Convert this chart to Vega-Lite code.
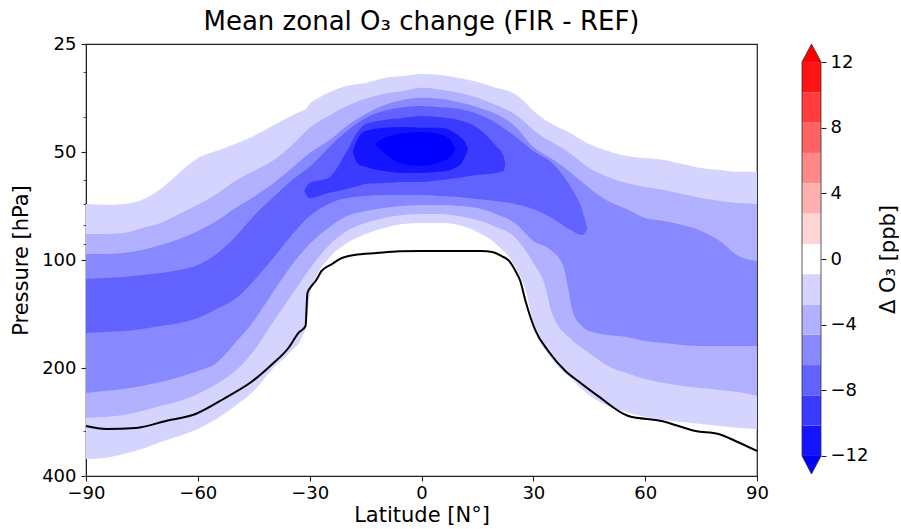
{
  "$schema": "https://vega.github.io/schema/vega-lite/v6.json",
  "padding": {"left": 10, "top": 8, "right": 0, "bottom": 0},
  "background": "white",
  "bounds": "flush",
  "spacing": 45,
  "config": {
    "font": "DejaVu Sans",
    "view": {"stroke": "#222", "strokeWidth": 1.2},
    "axis": {"labelFont": "DejaVu Sans", "titleFont": "DejaVu Sans", "labelFontSize": 18, "titleFontSize": 21, "titleFontWeight": "normal", "labelColor": "#000", "titleColor": "#000", "tickColor": "#222", "domainColor": "#222", "tickSize": 5, "tickWidth": 1.1, "grid": false, "labelFlush": false, "labelOverlap": false},
    "title": {"fontSize": 26, "fontWeight": "normal", "font": "DejaVu Sans", "color": "#000"}
  },
  "datasets": {
    "cont": [
      {"lev":1,"lat":-90,"top":69.8,"bot":358.6},{"lev":1,"lat":-85,"top":70.2,"bot":356.3},{"lev":1,"lat":-80,"top":69.8,"bot":347.3},{"lev":1,"lat":-75,"top":68.0,"bot":336.3},{"lev":1,"lat":-70,"top":63.4,"bot":321.5},{"lev":1,"lat":-65,"top":57.2,"bot":309.4},{"lev":1,"lat":-60,"top":52.0,"bot":295.7},{"lev":1,"lat":-55,"top":49.7,"bot":277.4},{"lev":1,"lat":-50,"top":47.5,"bot":255.2},{"lev":1,"lat":-45,"top":45.1,"bot":231.7},{"lev":1,"lat":-40,"top":42.3,"bot":201.2},{"lev":1,"lat":-35,"top":39.7,"bot":179.3},{"lev":1,"lat":-32,"top":38.4,"bot":163.8},{"lev":1,"lat":-31,"top":38.0,"bot":152.7},{"lev":1,"lat":-30,"top":36.7,"bot":126.0},{"lev":1,"lat":-28,"top":35.5,"bot":110.1},{"lev":1,"lat":-25,"top":34.2,"bot":99.3},{"lev":1,"lat":-20,"top":32.7,"bot":89.7},{"lev":1,"lat":-15,"top":32.1,"bot":84.6},{"lev":1,"lat":-10,"top":31.1,"bot":81.4},{"lev":1,"lat":-5,"top":30.7,"bot":79.4},{"lev":1,"lat":0,"top":30.3,"bot":78.9},{"lev":1,"lat":5,"top":30.5,"bot":78.9},{"lev":1,"lat":10,"top":31.1,"bot":79.9},{"lev":1,"lat":15,"top":31.9,"bot":83.5},{"lev":1,"lat":20,"top":33.1,"bot":90.2},{"lev":1,"lat":25,"top":34.4,"bot":103.9},{"lev":1,"lat":28,"top":36.5,"bot":122.0},{"lev":1,"lat":30,"top":38.4,"bot":149.8},{"lev":1,"lat":35,"top":41.8,"bot":188.7},{"lev":1,"lat":40,"top":44.3,"bot":213.2},{"lev":1,"lat":45,"top":47.5,"bot":237.7},{"lev":1,"lat":50,"top":49.7,"bot":255.2},{"lev":1,"lat":55,"top":51.3,"bot":265.2},{"lev":1,"lat":60,"top":52.0,"bot":273.9},{"lev":1,"lat":65,"top":52.6,"bot":279.1},{"lev":1,"lat":70,"top":54.0,"bot":282.8},{"lev":1,"lat":75,"top":55.4,"bot":286.4},{"lev":1,"lat":80,"top":56.1,"bot":290.1},{"lev":1,"lat":85,"top":56.8,"bot":293.8},{"lev":1,"lat":90,"top":56.8,"bot":295.7},
      {"lev":2,"lat":-90,"top":84.6,"bot":275.6},{"lev":2,"lat":-85,"top":84.6,"bot":273.9},{"lev":2,"lat":-80,"top":84.1,"bot":270.3},{"lev":2,"lat":-75,"top":81.4,"bot":263.5},{"lev":2,"lat":-70,"top":78.9,"bot":255.2},{"lev":2,"lat":-65,"top":74.4,"bot":247.1},{"lev":2,"lat":-60,"top":70.2,"bot":236.2},{"lev":2,"lat":-55,"top":65.5,"bot":221.6},{"lev":2,"lat":-50,"top":60.2,"bot":203.8},{"lev":2,"lat":-45,"top":56.5,"bot":179.3},{"lev":2,"lat":-40,"top":53.0,"bot":149.8},{"lev":2,"lat":-35,"top":48.1,"bot":126.0},{"lev":2,"lat":-30,"top":42.8,"bot":105.9},{"lev":2,"lat":-25,"top":39.7,"bot":91.4},{"lev":2,"lat":-20,"top":37.2,"bot":83.0},{"lev":2,"lat":-15,"top":35.5,"bot":78.9},{"lev":2,"lat":-10,"top":34.4,"bot":76.4},{"lev":2,"lat":-5,"top":33.8,"bot":74.9},{"lev":2,"lat":0,"top":33.1,"bot":74.4},{"lev":2,"lat":5,"top":33.5,"bot":74.4},{"lev":2,"lat":10,"top":34.2,"bot":75.4},{"lev":2,"lat":15,"top":35.3,"bot":77.4},{"lev":2,"lat":20,"top":37.0,"bot":80.9},{"lev":2,"lat":25,"top":39.2,"bot":86.3},{"lev":2,"lat":28,"top":41.5,"bot":94.4},{"lev":2,"lat":30,"top":43.4,"bot":101.9},{"lev":2,"lat":33,"top":45.7,"bot":116.6},{"lev":2,"lat":35,"top":46.9,"bot":140.5},{"lev":2,"lat":40,"top":50.6,"bot":165.9},{"lev":2,"lat":45,"top":55.4,"bot":181.6},{"lev":2,"lat":50,"top":58.7,"bot":197.4},{"lev":2,"lat":55,"top":61.0,"bot":206.4},{"lev":2,"lat":60,"top":62.6,"bot":214.6},{"lev":2,"lat":65,"top":63.8,"bot":220.2},{"lev":2,"lat":70,"top":65.5,"bot":224.4},{"lev":2,"lat":75,"top":67.2,"bot":227.3},{"lev":2,"lat":80,"top":68.5,"bot":230.2},{"lev":2,"lat":85,"top":69.4,"bot":233.2},{"lev":2,"lat":90,"top":69.8,"bot":239.3},
      {"lev":3,"lat":-90,"top":96.2,"bot":234.7},{"lev":3,"lat":-85,"top":96.2,"bot":231.7},{"lev":3,"lat":-80,"top":95.6,"bot":228.7},{"lev":3,"lat":-75,"top":93.8,"bot":224.4},{"lev":3,"lat":-70,"top":90.8,"bot":218.8},{"lev":3,"lat":-65,"top":87.4,"bot":211.9},{"lev":3,"lat":-60,"top":83.0,"bot":203.8},{"lev":3,"lat":-55,"top":77.9,"bot":193.6},{"lev":3,"lat":-50,"top":71.6,"bot":170.3},{"lev":3,"lat":-45,"top":66.7,"bot":147.9},{"lev":3,"lat":-40,"top":61.4,"bot":123.6},{"lev":3,"lat":-35,"top":55.7,"bot":103.9},{"lev":3,"lat":-30,"top":50.3,"bot":90.2},{"lev":3,"lat":-25,"top":46.6,"bot":81.4},{"lev":3,"lat":-20,"top":42.3,"bot":75.4},{"lev":3,"lat":-15,"top":39.2,"bot":73.0},{"lev":3,"lat":-10,"top":37.0,"bot":71.6},{"lev":3,"lat":-5,"top":35.8,"bot":70.7},{"lev":3,"lat":0,"top":35.3,"bot":70.3},{"lev":3,"lat":5,"top":35.5,"bot":70.3},{"lev":3,"lat":10,"top":36.3,"bot":70.7},{"lev":3,"lat":15,"top":37.5,"bot":71.6},{"lev":3,"lat":20,"top":39.2,"bot":74.4},{"lev":3,"lat":25,"top":42.3,"bot":78.9},{"lev":3,"lat":30,"top":48.4,"bot":88.5},{"lev":3,"lat":35,"top":52.3,"bot":94.4},{"lev":3,"lat":38,"top":55.0,"bot":103.9},{"lev":3,"lat":39.5,"top":56.5,"bot":122.0},{"lev":3,"lat":40.5,"top":57.7,"bot":138.7},{"lev":3,"lat":43,"top":60.5,"bot":152.7},{"lev":3,"lat":45,"top":63.0,"bot":157.7},{"lev":3,"lat":50,"top":68.5,"bot":161.8},{"lev":3,"lat":55,"top":72.1,"bot":163.8},{"lev":3,"lat":60,"top":76.4,"bot":168.1},{"lev":3,"lat":65,"top":77.9,"bot":170.3},{"lev":3,"lat":70,"top":79.9,"bot":172.5},{"lev":3,"lat":75,"top":83.0,"bot":173.6},{"lev":3,"lat":80,"top":88.5,"bot":173.6},{"lev":3,"lat":85,"top":97.5,"bot":173.6},{"lev":3,"lat":90,"top":100.7,"bot":173.6},
      {"lev":4,"lat":-90,"top":113.0,"bot":159.7},{"lev":4,"lat":-85,"top":112.3,"bot":158.7},{"lev":4,"lat":-80,"top":111.5,"bot":157.7},{"lev":4,"lat":-75,"top":110.1,"bot":155.6},{"lev":4,"lat":-70,"top":108.7,"bot":152.7},{"lev":4,"lat":-65,"top":106.6,"bot":149.8},{"lev":4,"lat":-60,"top":103.2,"bot":145.0},{"lev":4,"lat":-55,"top":96.2,"bot":136.9},{"lev":4,"lat":-50,"top":86.3,"bot":128.4},{"lev":4,"lat":-45,"top":75.4,"bot":114.4},{"lev":4,"lat":-40,"top":67.2,"bot":99.4},{"lev":4,"lat":-35,"top":60.2,"bot":85.7},{"lev":4,"lat":-30,"top":55.0,"bot":75.4},{"lev":4,"lat":-25,"top":48.7,"bot":69.8},{"lev":4,"lat":-20,"top":43.7,"bot":67.2},{"lev":4,"lat":-15,"top":40.2,"bot":66.3},{"lev":4,"lat":-10,"top":38.4,"bot":65.9},{"lev":4,"lat":-5,"top":37.5,"bot":65.9},{"lev":4,"lat":0,"top":37.2,"bot":65.9},{"lev":4,"lat":5,"top":37.5,"bot":66.3},{"lev":4,"lat":10,"top":37.9,"bot":66.7},{"lev":4,"lat":15,"top":39.2,"bot":67.6},{"lev":4,"lat":20,"top":41.5,"bot":68.5},{"lev":4,"lat":25,"top":45.1,"bot":69.8},{"lev":4,"lat":30,"top":49.7,"bot":72.1},{"lev":4,"lat":35,"top":53.7,"bot":76.4},{"lev":4,"lat":40,"top":62.6,"bot":82.5},{"lev":4,"lat":43,"top":72.1,"bot":85.2},{"lev":4,"lat":44.5,"top":81.9,"bot":81.9},
      {"lev":5,"lat":-31.5,"top":64.2,"bot":64.2},{"lev":5,"lat":-30,"top":61.0,"bot":67.2},{"lev":5,"lat":-25,"top":59.1,"bot":65.1},{"lev":5,"lat":-20,"top":49.7,"bot":63.4},{"lev":5,"lat":-17,"top":43.7,"bot":62.2},{"lev":5,"lat":-15,"top":41.8,"bot":61.4},{"lev":5,"lat":-10,"top":40.7,"bot":61.0},{"lev":5,"lat":-5,"top":40.2,"bot":60.6},{"lev":5,"lat":0,"top":39.7,"bot":60.6},{"lev":5,"lat":5,"top":40.0,"bot":59.8},{"lev":5,"lat":10,"top":40.7,"bot":59.1},{"lev":5,"lat":15,"top":42.8,"bot":57.9},{"lev":5,"lat":20,"top":48.1,"bot":57.2},{"lev":5,"lat":22,"top":51.3,"bot":56.5},{"lev":5,"lat":22.5,"top":53.7,"bot":53.7},
      {"lev":6,"lat":-18.5,"top":49.7,"bot":49.7},{"lev":6,"lat":-17,"top":45.7,"bot":54.0},{"lev":6,"lat":-15,"top":43.7,"bot":55.0},{"lev":6,"lat":-10,"top":42.8,"bot":56.5},{"lev":6,"lat":-5,"top":42.6,"bot":57.2},{"lev":6,"lat":0,"top":42.8,"bot":57.2},{"lev":6,"lat":5,"top":42.8,"bot":56.8},{"lev":6,"lat":10,"top":45.1,"bot":54.7},{"lev":6,"lat":11.5,"top":46.6,"bot":52.0},{"lev":6,"lat":12.5,"top":49.1,"bot":49.1},
      {"lev":7,"lat":-12.5,"top":47.5,"bot":47.5},{"lev":7,"lat":-10,"top":45.7,"bot":50.3},{"lev":7,"lat":-5,"top":44.3,"bot":54.0},{"lev":7,"lat":0,"top":44.0,"bot":54.7},{"lev":7,"lat":5,"top":44.6,"bot":53.3},{"lev":7,"lat":8,"top":46.6,"bot":51.3},{"lev":7,"lat":9,"top":49.1,"bot":49.1}
    ],
    "trop": [
      {"lat":-90,"p":290.1},{"lat":-84.6,"p":295.7},{"lat":-76.6,"p":293.8},{"lat":-68.6,"p":281.0},{"lat":-60.6,"p":268.6},{"lat":-52.6,"p":242.1},{"lat":-45.3,"p":217.4},{"lat":-40,"p":195.0},{"lat":-35.7,"p":175.9},{"lat":-33,"p":159.7},{"lat":-31.1,"p":152.7},{"lat":-30.6,"p":123.6},{"lat":-29.5,"p":118.2},{"lat":-28.4,"p":114.4},{"lat":-26.8,"p":107.3},{"lat":-24,"p":102.6},{"lat":-22,"p":99.4},{"lat":-18,"p":96.8},{"lat":-12,"p":95.6},{"lat":-6,"p":94.6},{"lat":0,"p":94.4},{"lat":12,"p":94.4},{"lat":16,"p":94.4},{"lat":19,"p":95.0},{"lat":21.5,"p":97.5},{"lat":23.5,"p":100.6},{"lat":25.2,"p":107.3},{"lat":26.5,"p":114.4},{"lat":27.9,"p":130.1},{"lat":30.6,"p":157.7},{"lat":34,"p":179.3},{"lat":38.6,"p":203.8},{"lat":42,"p":217.4},{"lat":47.5,"p":240.0},{"lat":55.5,"p":272.1},{"lat":64.4,"p":281.0},{"lat":73.5,"p":299.6},{"lat":79.7,"p":305.4},{"lat":84.2,"p":319.5},{"lat":90,"p":340.7}
    ],
    "cbar": [
      {"band":1,"lo":-12,"hi":-10.154},{"band":2,"lo":-10.154,"hi":-8.308},{"band":3,"lo":-8.308,"hi":-6.462},{"band":4,"lo":-6.462,"hi":-4.615},{"band":5,"lo":-4.615,"hi":-2.769},{"band":6,"lo":-2.769,"hi":-0.923},{"band":7,"lo":-0.923,"hi":0.923},{"band":8,"lo":0.923,"hi":2.769},{"band":9,"lo":2.769,"hi":4.615},{"band":10,"lo":4.615,"hi":6.462},{"band":11,"lo":6.462,"hi":8.308},{"band":12,"lo":8.308,"hi":10.154},{"band":13,"lo":10.154,"hi":12}
    ],
    "tri": [
      {"end":"over","x":0,"y":12,"base":12},{"end":"over","x":0.5,"y":13.1,"base":12},{"end":"over","x":1,"y":12,"base":12},
      {"end":"under","x":0,"y":-12,"base":-12},{"end":"under","x":0.5,"y":-13.1,"base":-12},{"end":"under","x":1,"y":-12,"base":-12}
    ],
    "outline": [
      {"i":0,"x":0,"y":-12},{"i":1,"x":0,"y":12},{"i":2,"x":0.5,"y":13.1},{"i":3,"x":1,"y":12},{"i":4,"x":1,"y":-12},{"i":5,"x":0.5,"y":-13.1},{"i":6,"x":0,"y":-12}
    ]
  },
  "hconcat": [
    {
      "width": 671,
      "height": 432,
      "title": {"text": "Mean zonal O₃ change (FIR - REF)", "anchor": "middle", "offset": 0},
      "layer": [
        {
          "data": {"name": "cont"},
          "mark": {"type": "area", "interpolate": "monotone"},
          "encoding": {
            "x": {"field": "lat", "type": "quantitative", "scale": {"domain": [-90, 90], "nice": false, "zero": false},
                  "axis": {"values": [-90, -60, -30, 0, 30, 60, 90], "title": "Latitude [N°]", "labelPadding": 3, "titlePadding": 2}},
            "y": {"field": "top", "type": "quantitative", "stack": null,
                  "scale": {"type": "log", "domain": [25, 400], "reverse": true, "nice": false},
                  "axis": {"values": [25, 30, 40, 50, 60, 70, 80, 90, 100, 200, 300, 400], "format": "d",
                           "labelExpr": "indexof([25, 50, 100, 200, 400], datum.value) >= 0 ? datum.label : ''",
                           "tickSize": {"condition": {"test": "indexof([25, 50, 100, 200, 400], datum.value) >= 0", "value": 5}, "value": 3},
                           "tickWidth": {"condition": {"test": "indexof([25, 50, 100, 200, 400], datum.value) >= 0", "value": 1.1}, "value": 0.8},
                           "title": "Pressure [hPa]", "labelPadding": 5, "titlePadding": 10}},
            "y2": {"field": "bot"},
            "color": {"field": "lev", "type": "ordinal", "scale": {"domain": [1, 2, 3, 4, 5, 6, 7], "range": ["#d4d4ff", "#b1b1ff", "#8989ff", "#6262ff", "#3b3bff", "#1414ff", "#0000ff"]}, "legend": null}
          }
        },
        {
          "data": {"name": "trop"},
          "mark": {"type": "line", "color": "#000", "strokeWidth": 2, "interpolate": "monotone"},
          "encoding": {
            "x": {"field": "lat", "type": "quantitative"},
            "y": {"field": "p", "type": "quantitative"}
          }
        }
      ]
    },
    {
      "width": 19,
      "height": 430,
      "view": {"stroke": null},
      "resolve": {"scale": {"color": "independent"}},
      "layer": [
        {
          "data": {"name": "cbar"},
          "mark": {"type": "rect"},
          "encoding": {
            "x": {"datum": 0, "type": "quantitative", "scale": {"domain": [0, 1], "nice": false, "zero": false}, "axis": null},
            "x2": {"datum": 1},
            "y": {"field": "lo", "type": "quantitative", "scale": {"domain": [-13.1, 13.1], "nice": false, "zero": false},
                  "axis": {"orient": "right", "values": [-12, -8, -4, 0, 4, 8, 12], "domain": false, "labelPadding": 4, "title": "Δ O₃ [ppb]", "titleAngle": 270, "titlePadding": 31}},
            "y2": {"field": "hi"},
            "color": {"field": "band", "type": "ordinal", "scale": {"domain": [1,2,3,4,5,6,7,8,9,10,11,12,13], "range": ["#1414ff","#3b3bff","#6262ff","#8989ff","#b1b1ff","#d4d4ff","#ffffff","#ffd4d4","#ffb1b1","#ff8989","#ff6262","#ff3b3b","#ff1414"]}, "legend": null}
          }
        },
        {
          "data": {"name": "tri"},
          "mark": {"type": "area"},
          "encoding": {
            "x": {"field": "x", "type": "quantitative"},
            "y": {"field": "y", "type": "quantitative", "stack": null},
            "y2": {"field": "base"},
            "color": {"field": "end", "type": "nominal", "scale": {"domain": ["under", "over"], "range": ["#0000ff", "#ff0000"]}, "legend": null}
          }
        },
        {
          "data": {"name": "outline"},
          "mark": {"type": "line", "color": "#333", "strokeWidth": 0.8},
          "encoding": {
            "x": {"field": "x", "type": "quantitative"},
            "y": {"field": "y", "type": "quantitative"},
            "order": {"field": "i", "type": "quantitative"}
          }
        }
      ]
    }
  ]
}
